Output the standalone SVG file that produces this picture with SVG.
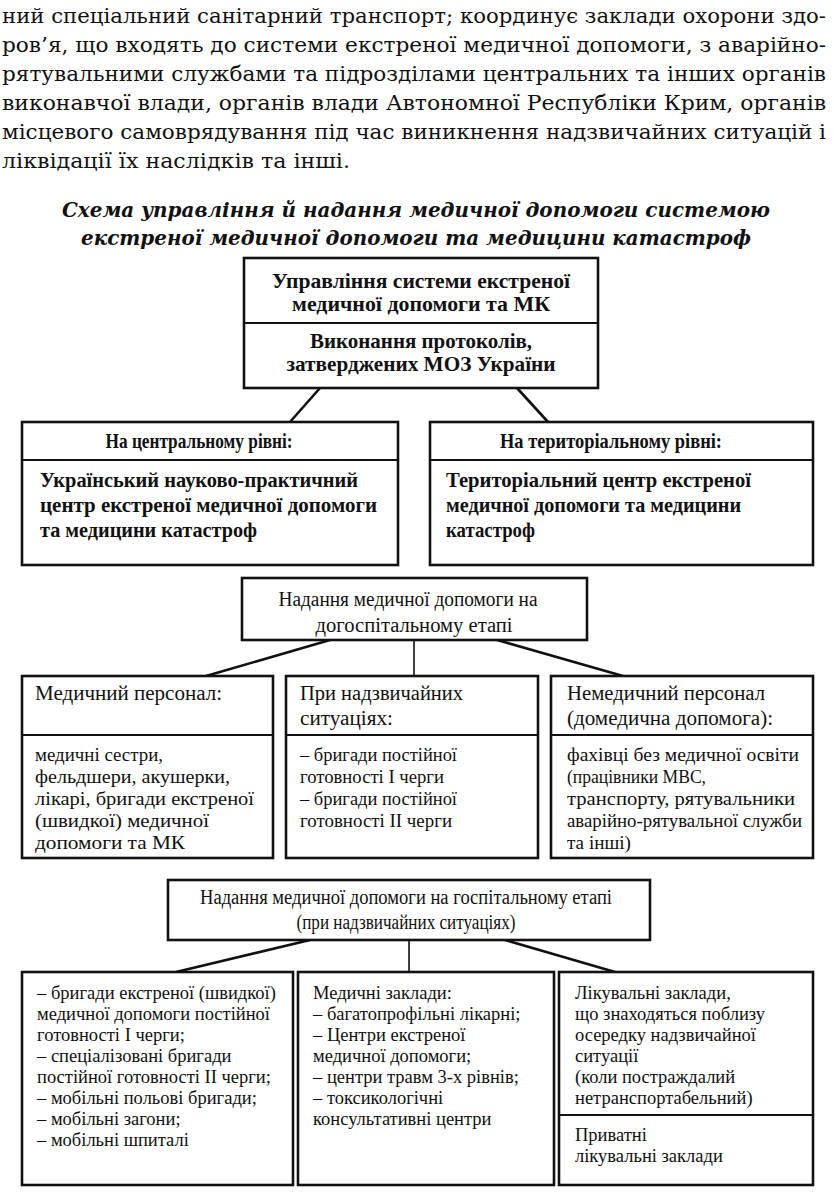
<svg xmlns="http://www.w3.org/2000/svg" width="834" height="1200" viewBox="0 0 834 1200">
<style>
text{font-family:"Liberation Serif","Times New Roman",serif;fill:#111}
.p{font-family:"DejaVu Serif",serif;font-size:20.5px}
.t{font-family:"DejaVu Serif",serif;font-size:21px;font-weight:bold;font-style:italic}
.b{font-size:21px;font-weight:bold}
.bc{font-size:21px;font-weight:bold}
.r{font-size:20px}
.s{font-size:18px}
.l{font-size:18.5px}
.m{text-anchor:middle}
.box{fill:#fff;stroke:#111;stroke-width:2.6}
.div{stroke:#111;stroke-width:2.2}
.con line{stroke:#111;stroke-width:2.6}
.con line.v{stroke-width:1.6}
</style>
<rect width="834" height="1200" fill="#fff"/>
<g id="paragraph">
<text class="p" x="2" y="23" textLength="824" lengthAdjust="spacingAndGlyphs">ний спеціальний санітарний транспорт; координує заклади охорони здо-</text>
<text class="p" x="2" y="52" textLength="824" lengthAdjust="spacingAndGlyphs">ров’я, що входять до системи екстреної медичної допомоги, з аварійно-</text>
<text class="p" x="2" y="81" textLength="824" lengthAdjust="spacingAndGlyphs">рятувальними службами та підрозділами центральних та інших органів</text>
<text class="p" x="2" y="110" textLength="824" lengthAdjust="spacingAndGlyphs">виконавчої влади, органів влади Автономної Республіки Крим, органів</text>
<text class="p" x="2" y="139" textLength="824" lengthAdjust="spacingAndGlyphs">місцевого самоврядування під час виникнення надзвичайних ситуацій і</text>
<text class="p" x="2" y="168" textLength="348" lengthAdjust="spacingAndGlyphs">ліквідації їх наслідків та інші.</text>
</g>
<g id="title">
<text class="t m" x="416" y="217" textLength="708" lengthAdjust="spacingAndGlyphs">Схема управління й надання медичної допомоги системою</text>
<text class="t m" x="416" y="245" textLength="670" lengthAdjust="spacingAndGlyphs">екстреної медичної допомоги та медицини катастроф</text>
</g>
<g class="con" id="connectors">
<line x1="320" y1="388" x2="290" y2="422"/>
<line x1="517" y1="388" x2="548" y2="422"/>
<line x1="330" y1="640" x2="206" y2="676"/>
<line class="v" x1="414" y1="640" x2="414" y2="676"/>
<line x1="497" y1="640" x2="623" y2="676"/>
<line x1="310" y1="940" x2="176" y2="972"/>
<line class="v" x1="409" y1="940" x2="409" y2="972"/>
<line x1="505" y1="940" x2="615" y2="972"/>
</g>
<g id="management">
<rect class="box" x="244" y="258" width="354" height="130"/>
<line class="div" x1="244" y1="323" x2="598" y2="323"/>
<text class="b m" x="421" y="288" textLength="298" lengthAdjust="spacingAndGlyphs">Управління системи екстреної</text>
<text class="b m" x="421" y="311" textLength="258" lengthAdjust="spacingAndGlyphs">медичної допомоги та МК</text>
<text class="b m" x="421" y="348" textLength="222" lengthAdjust="spacingAndGlyphs">Виконання протоколів,</text>
<text class="b m" x="421" y="371" textLength="269" lengthAdjust="spacingAndGlyphs">затверджених МОЗ України</text>
</g>
<g id="central">
<rect class="box" x="22" y="422" width="376" height="143"/>
<line class="div" x1="22" y1="460" x2="398" y2="460"/>
<text class="bc m" x="199" y="448" textLength="187" lengthAdjust="spacingAndGlyphs">На центральному рівні:</text>
<text class="bc" x="40" y="487" textLength="318" lengthAdjust="spacingAndGlyphs">Український науково-практичний</text>
<text class="bc" x="40" y="512" textLength="337" lengthAdjust="spacingAndGlyphs">центр екстреної медичної допомоги</text>
<text class="bc" x="40" y="537" textLength="217" lengthAdjust="spacingAndGlyphs">та медицини катастроф</text>
</g>
<g id="territorial">
<rect class="box" x="430" y="422" width="383" height="143"/>
<line class="div" x1="430" y1="460" x2="813" y2="460"/>
<text class="bc m" x="611" y="448" textLength="222" lengthAdjust="spacingAndGlyphs">На територіальному рівні:</text>
<text class="bc" x="446" y="487" textLength="305" lengthAdjust="spacingAndGlyphs">Територіальний центр екстреної</text>
<text class="bc" x="446" y="512" textLength="295" lengthAdjust="spacingAndGlyphs">медичної допомоги та медицини</text>
<text class="bc" x="446" y="537" textLength="89" lengthAdjust="spacingAndGlyphs">катастроф</text>
</g>
<g id="prehospital">
<rect class="box" x="242" y="578" width="345" height="62"/>
<text class="r m" x="408" y="606" textLength="259" lengthAdjust="spacingAndGlyphs">Надання медичної допомоги на</text>
<text class="r m" x="414" y="632" textLength="197" lengthAdjust="spacingAndGlyphs">догоспітальному етапі</text>
</g>
<g id="medical-staff">
<rect class="box" x="22" y="676" width="251" height="182"/>
<line class="div" x1="22" y1="735" x2="273" y2="735"/>
<text class="r" x="35" y="700" textLength="187" lengthAdjust="spacingAndGlyphs">Медичний персонал:</text>
<text class="s" x="35" y="761" textLength="128" lengthAdjust="spacingAndGlyphs">медичні сестри,</text>
<text class="s" x="35" y="783" textLength="195" lengthAdjust="spacingAndGlyphs">фельдшери, акушерки,</text>
<text class="s" x="35" y="805" textLength="219" lengthAdjust="spacingAndGlyphs">лікарі, бригади екстреної</text>
<text class="s" x="35" y="827" textLength="174" lengthAdjust="spacingAndGlyphs">(швидкої) медичної</text>
<text class="s" x="35" y="849" textLength="150" lengthAdjust="spacingAndGlyphs">допомоги та МК</text>
</g>
<g id="emergency">
<rect class="box" x="286" y="676" width="252" height="182"/>
<line class="div" x1="286" y1="735" x2="538" y2="735"/>
<text class="r" x="300" y="700" textLength="163" lengthAdjust="spacingAndGlyphs">При надзвичайних</text>
<text class="r" x="300" y="725" textLength="93" lengthAdjust="spacingAndGlyphs">ситуаціях:</text>
<text class="s" x="300" y="761" textLength="157" lengthAdjust="spacingAndGlyphs">– бригади постійної</text>
<text class="s" x="300" y="783" textLength="144" lengthAdjust="spacingAndGlyphs">готовності І черги</text>
<text class="s" x="300" y="805" textLength="157" lengthAdjust="spacingAndGlyphs">– бригади постійної</text>
<text class="s" x="300" y="827" textLength="152" lengthAdjust="spacingAndGlyphs">готовності ІІ черги</text>
</g>
<g id="non-medical">
<rect class="box" x="551" y="676" width="262" height="182"/>
<line class="div" x1="551" y1="735" x2="813" y2="735"/>
<text class="r" x="567" y="700" textLength="198" lengthAdjust="spacingAndGlyphs">Немедичний персонал</text>
<text class="r" x="567" y="725" textLength="206" lengthAdjust="spacingAndGlyphs">(домедична допомога):</text>
<text class="s" x="567" y="761" textLength="232" lengthAdjust="spacingAndGlyphs">фахівці без медичної освіти</text>
<text class="s" x="567" y="783" textLength="139" lengthAdjust="spacingAndGlyphs">(працівники МВС,</text>
<text class="s" x="567" y="805" textLength="228" lengthAdjust="spacingAndGlyphs">транспорту, рятувальники</text>
<text class="s" x="567" y="827" textLength="235" lengthAdjust="spacingAndGlyphs">аварійно-рятувальної служби</text>
<text class="s" x="567" y="849" textLength="64" lengthAdjust="spacingAndGlyphs">та інші)</text>
</g>
<g id="hospital">
<rect class="box" x="168" y="880" width="482" height="60"/>
<text class="r m" x="406" y="904" textLength="412" lengthAdjust="spacingAndGlyphs">Надання медичної допомоги на госпітальному етапі</text>
<text class="r m" x="406" y="929" textLength="219" lengthAdjust="spacingAndGlyphs">(при надзвичайних ситуаціях)</text>
</g>
<g id="brigades">
<rect class="box" x="22" y="972" width="271" height="213"/>
<text class="l" x="37" y="999">– бригади екстреної (швидкої)</text>
<text class="l" x="37" y="1020">медичної допомоги постійної</text>
<text class="l" x="37" y="1041">готовності І черги;</text>
<text class="l" x="37" y="1062">– спеціалізовані бригади</text>
<text class="l" x="37" y="1083">постійної готовності ІІ черги;</text>
<text class="l" x="37" y="1104">– мобільні польові бригади;</text>
<text class="l" x="37" y="1125">– мобільні загони;</text>
<text class="l" x="37" y="1146">– мобільні шпиталі</text>
</g>
<g id="institutions">
<rect class="box" x="298" y="972" width="256" height="213"/>
<text class="l" x="313" y="999">Медичні заклади:</text>
<text class="l" x="313" y="1020">– багатопрофільні лікарні;</text>
<text class="l" x="313" y="1041">– Центри екстреної</text>
<text class="l" x="313" y="1062">медичної допомоги;</text>
<text class="l" x="313" y="1083">– центри травм 3-х рівнів;</text>
<text class="l" x="313" y="1104">– токсикологічні</text>
<text class="l" x="313" y="1125">консультативні центри</text>
</g>
<g id="nearby">
<rect class="box" x="559" y="972" width="254" height="213"/>
<line class="div" x1="559" y1="1115" x2="813" y2="1115"/>
<text class="l" x="575" y="999">Лікувальні заклади,</text>
<text class="l" x="575" y="1020">що знаходяться поблизу</text>
<text class="l" x="575" y="1041">осередку надзвичайної</text>
<text class="l" x="575" y="1062">ситуації</text>
<text class="l" x="575" y="1083">(коли постраждалий</text>
<text class="l" x="575" y="1104">нетранспортабельний)</text>
<text class="l" x="575" y="1141">Приватні</text>
<text class="l" x="575" y="1162">лікувальні заклади</text>
</g>
</svg>
